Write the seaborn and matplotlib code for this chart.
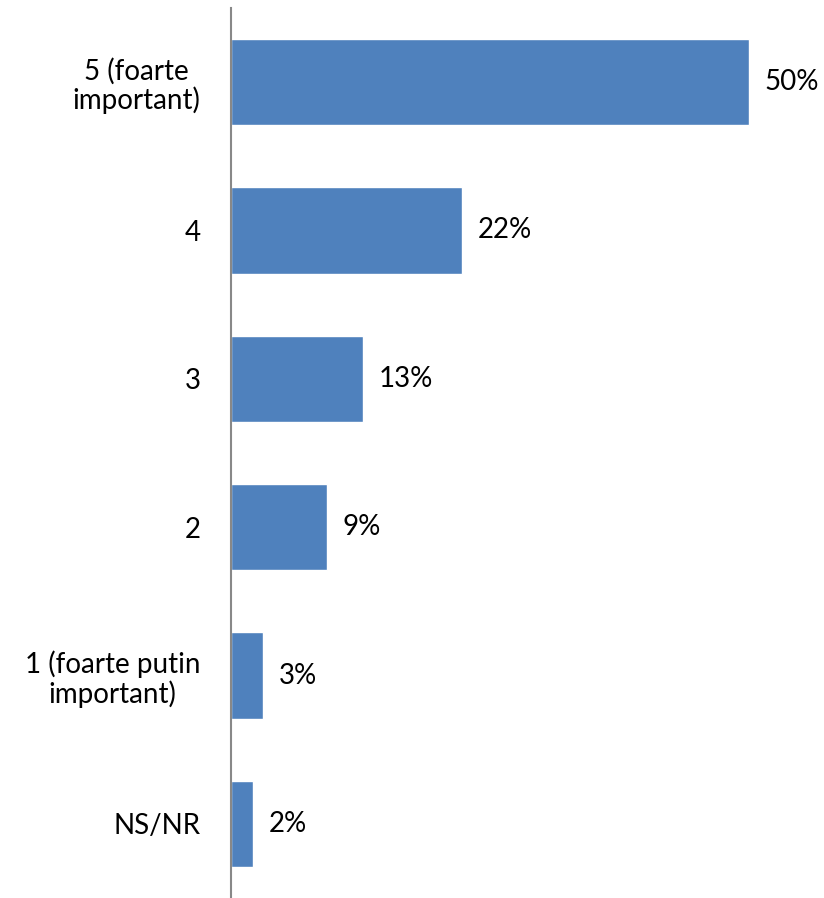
import matplotlib
matplotlib.use('Agg')
import matplotlib.pyplot as plt
import pandas as pd
import seaborn as sns

sns.set_style('white')
plt.rcParams['font.family'] = ['Lato', 'DejaVu Sans']

categorii = ['5 (foarte\nimportant)', '4', '3', '2', '1 (foarte putin\nimportant)', 'NS/NR']
procente = [50.0, 22.3, 12.7, 9.3, 3.1, 2.1]
etichete = ['50%', '22%', '13%', '9%', '3%', '2%']

df = pd.DataFrame({'categorie': categorii, 'procent': procente})

fig = plt.figure(figsize=(8.24, 8.98), dpi=100)
ax = fig.add_axes([231 / 824, 0.0, 593 / 824, 890 / 898])

sns.barplot(data=df, x='procent', y='categorie', color='#4F81BD',
            width=0.58, saturation=1, ax=ax)

for i, (v, t) in enumerate(zip(procente, etichete)):
    ax.text(v + 1.5, i, t, va='center', ha='left', fontsize=20, color='black')

ax.set_xlim(0, 57.2)
ax.set_ylim(5.5, -0.5)
ax.set_xlabel('')
ax.set_ylabel('')
ax.set_xticks([])
ax.tick_params(axis='y', length=0, pad=22, labelsize=20, labelcolor='black')
for lbl in ax.get_yticklabels():
    lbl.set_multialignment('center')
    lbl.set_linespacing(1.1)

for s in ['top', 'right', 'bottom']:
    ax.spines[s].set_visible(False)
ax.spines['left'].set_color('#888888')
ax.spines['left'].set_linewidth(1.5)

fig.savefig('out.png', dpi=100)
